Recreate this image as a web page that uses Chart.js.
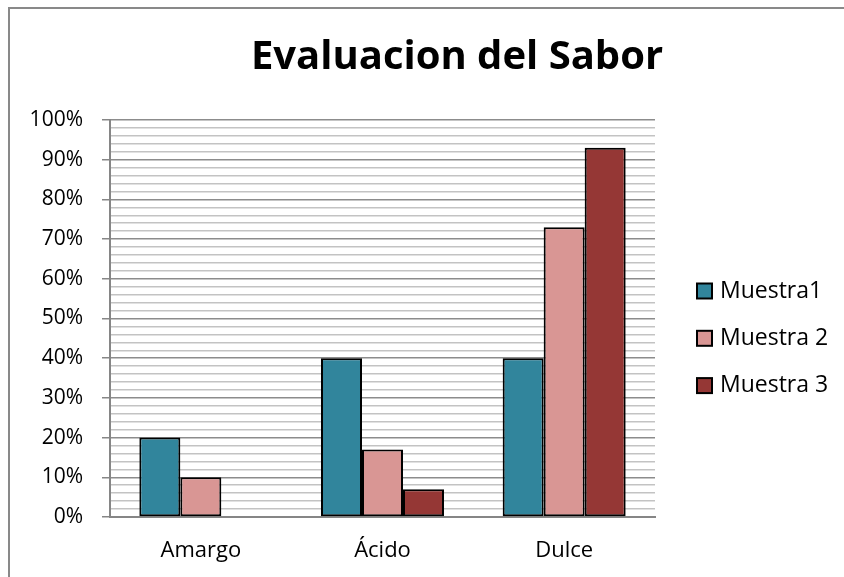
<!DOCTYPE html>
<html>
<head>
<meta charset="utf-8">
<script src="https://cdn.jsdelivr.net/npm/chart.js@4.4.1/dist/chart.umd.min.js"></script>
<style>
    html, body { margin: 0; padding: 0; background: #fff; overflow: hidden; }
    #wrap { position: relative; width: 844px; height: 577px; overflow: hidden; }
    #frame {
        position: absolute; left: 8px; top: 7px;
        width: 900px; height: 700px;
        border: 2px solid #898989; box-sizing: border-box;
    }
    #chart { position: absolute; left: 0; top: 0; }
</style>
</head>
<body>
<div id="wrap">
    <div id="frame"></div>
    <canvas id="chart" width="844" height="577"></canvas>
</div>
<script>
// Data
const categories = ['Amargo', 'Ácido', 'Dulce'];
const seriesNames = ['Muestra1', 'Muestra 2', 'Muestra 3'];
const muestra1 = [20, 40, 40];
const muestra2 = [10, 17, 73];
const muestra3 = [0, 7, 93];
const yMin = 0, yMax = 100, yStep = 2, yLabelEvery = 10;
const chartTitle = 'Evaluacion del Sabor';

const colors = ['#31859C', '#D99694', '#953735'];
const font = "'Open Sans', 'Liberation Sans', sans-serif";

// title + legend drawn by hand so they sit where Excel put them
const decorPlugin = {
    id: 'decor',
    afterDraw(chart) {
        const ctx = chart.ctx;
        ctx.save();
        ctx.fillStyle = '#000';
        ctx.font = 'bold 40px ' + font;
        ctx.textAlign = 'center';
        ctx.textBaseline = 'middle';
        ctx.fillText(chartTitle, 457, 58);

        ctx.font = '23px ' + font;
        ctx.textAlign = 'left';
        chart.data.datasets.forEach((ds, i) => {
            const y = 291 + i * 47.3;
            ctx.fillStyle = ds.backgroundColor;
            ctx.fillRect(697, y - 7.5, 15, 15);
            ctx.strokeStyle = '#000';
            ctx.lineWidth = 2;
            ctx.strokeRect(697, y - 7.5, 15, 15);
            ctx.fillStyle = '#000';
            ctx.fillText(ds.label, 720, y);
        });
        ctx.restore();
    }
};

const datasets = [muestra1, muestra2, muestra3].map((vals, i) => ({
    label: seriesNames[i],
    data: vals,
    backgroundColor: colors[i],
    borderColor: '#000',
    borderWidth: 2,
    borderSkipped: false,
    categoryPercentage: 0.677,
    barPercentage: 1.0
}));

new Chart(document.getElementById('chart'), {
    type: 'bar',
    data: { labels: categories, datasets: datasets },
    options: {
        responsive: false,
        animation: false,
        layout: { padding: { left: 0, top: 120, right: 189, bottom: 0 } },
        plugins: {
            legend: { display: false },
            title: { display: false },
            tooltip: { enabled: false }
        },
        scales: {
            x: {
                grid: { display: false, drawTicks: false },
                border: { display: true, color: '#868686', width: 2 },
                ticks: { color: '#000', font: { family: font, size: 22 }, padding: 21 },
                afterFit(scale) {
                    scale.height = 60;
                    scale.paddingLeft = 0;
                    scale.paddingRight = 0;
                }
            },
            y: {
                min: yMin,
                max: yMax,
                grid: {
                    color: ctx => (ctx.tick && ctx.tick.value % yLabelEvery === 0) ? '#8C8C8C' : '#C3C3C3',
                    tickColor: ctx => (ctx.tick && ctx.tick.value % yLabelEvery === 0) ? '#868686' : 'rgba(0,0,0,0)',
                    lineWidth: 1.5,
                    tickLength: 8,
                    drawTicks: true
                },
                border: { display: true, color: '#868686', width: 2 },
                ticks: {
                    stepSize: yStep,
                    autoSkip: false,
                    padding: 19,
                    color: '#000',
                    font: { family: font, size: 21 },
                    callback: v => (v % yLabelEvery === 0) ? v + '%' : ''
                },
                afterFit(scale) {
                    scale.width = 110;
                    scale.paddingTop = 0;
                    scale.paddingBottom = 0;
                }
            }
        }
    },
    plugins: [decorPlugin]
});
</script>
</body>
</html>
